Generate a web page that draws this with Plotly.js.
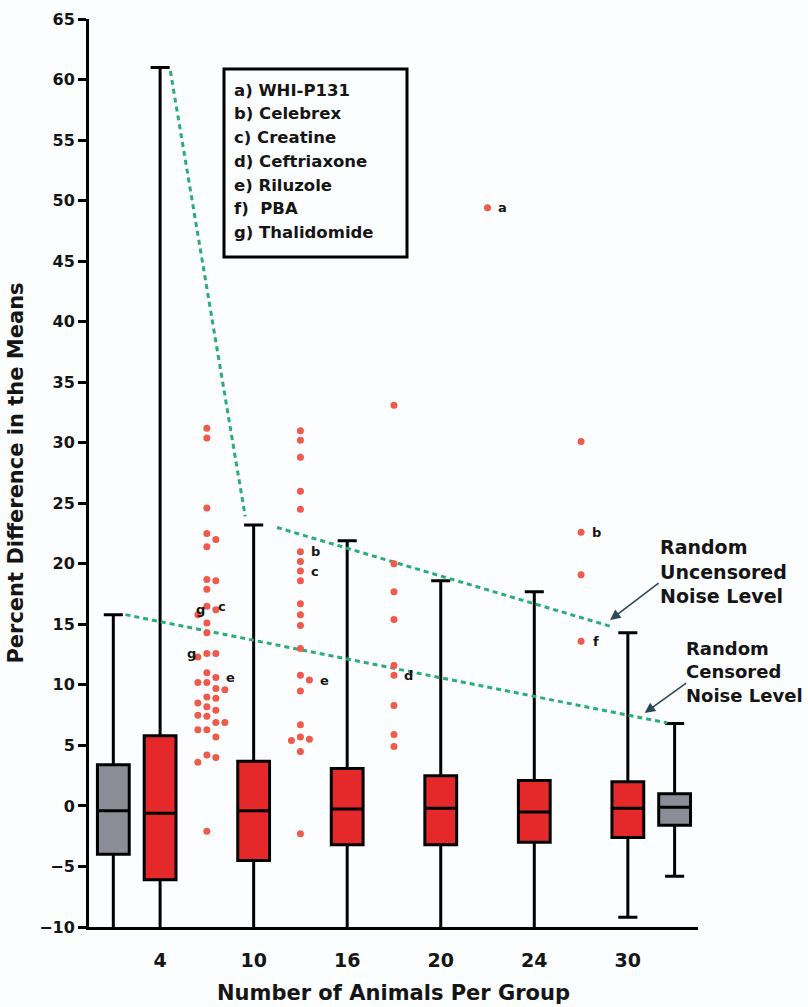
<!DOCTYPE html>
<html><head><meta charset="utf-8">
<script src="https://cdn.plot.ly/plotly-3.0.1.min.js"></script>
<style>html,body{margin:0;padding:0;background:#fcfdff;}#chart{width:808px;height:1007px;}</style>
</head><body><div id="chart"></div>
<script>
// ---------- DATA ----------
const groupLabels = ['4', '10', '16', '20', '24', '30'];
const groupPos = [0, 1, 2, 3, 4, 5];
const redQ1 = [-6.1, -4.5, -3.2, -3.2, -3.0, -2.6];
const redMedian = [-0.6, -0.4, -0.25, -0.2, -0.5, -0.2];
const redQ3 = [5.8, 3.7, 3.1, 2.5, 2.1, 2.0];
const redLower = [-11, -11, -11, -11, -11, -9.2];
const redUpper = [61.0, 23.2, 21.9, 18.6, 17.7, 14.3];

const grayPos = [-0.5, 5.5];
const grayQ1 = [-4.0, -1.6];
const grayMedian = [-0.4, -0.1];
const grayQ3 = [3.4, 1.0];
const grayLower = [-11, -5.8];
const grayUpper = [15.8, 6.8];

// outlier (drug) dots, placed between the group boxes
const dotColumns = [0.5, 1.5, 2.5, 3.5, 4.5];
const dotsCol1 = [31.2, 30.4, 24.6, 22.5, 22.0, 21.4, 18.7, 18.6, 17.9, 16.5, 16.2, 15.8, 15.1, 14.3,
  12.6, 12.6, 12.3, 11.0, 10.6, 10.2, 10.2, 9.7, 9.6, 9.0, 8.9, 8.5, 8.2, 7.9, 7.5, 7.4, 6.9, 6.9,
  6.3, 6.3, 5.7, 4.2, 4.0, 3.6, -2.1];
const dotsCol2 = [31.0, 30.2, 28.8, 26.0, 24.5, 21.0, 20.2, 19.4, 18.6, 16.7, 15.8, 14.9, 13.0,
  10.8, 10.4, 9.5, 6.7, 5.7, 5.5, 5.4, 4.5, -2.3];
const dotsCol3 = [33.1, 20.0, 17.7, 15.4, 11.6, 10.8, 8.3, 5.9, 4.9];
const dotsCol4 = [49.4];
const dotsCol5 = [30.1, 22.6, 19.1, 13.6];

// letter tags next to dots
const tagLetters = ['a', 'b', 'b', 'c', 'c', 'd', 'e', 'e', 'f', 'g', 'g'];
const tagColumns = [3.5, 1.5, 4.5, 0.5, 1.5, 2.5, 0.5, 1.5, 4.5, 0.5, 0.5];
const tagValues = [49.4, 21.0, 22.6, 16.5, 19.4, 10.8, 10.6, 10.4, 13.6, 16.2, 12.6];

// noise level lines
const uncensoredX = [0.11, 0.91, null, 1.25, 4.83];
const uncensoredY = [60.7, 23.9, null, 23.0, 14.8];
const censoredX = [-0.37, 5.42];
const censoredY = [15.8, 6.85];

const legendEntries = ['a) WHI-P131', 'b) Celebrex', 'c) Creatine', 'd) Ceftriaxone', 'e) Riluzole', 'f)\u00a0 PBA', 'g) Thalidomide'];

// ---------- LAYOUT CONSTANTS ----------
const W = 808, H = 1007;
const M = {l: 89, r: 110, t: 19, b: 80};
const xRange = [-0.76, 5.75], yRange = [-10, 65];
const pxPerX = (W - M.l - M.r) / (xRange[1] - xRange[0]);
const pxPerY = (H - M.t - M.b) / (yRange[1] - yRange[0]);
const FONT = 'DejaVu Sans, Arial, sans-serif';
const TXT = '#151515';

function swarm(values) {
  const placed = [];
  const order = [0, 1, -1, 2, -2, 3, -3];
  const step = 9, minD = 8.5;
  values.slice().sort((a, b) => b - a).forEach(v => {
    for (const k of order) {
      const off = k * step;
      if (placed.every(p => Math.hypot(off - p.off, (v - p.v) * pxPerY) >= minD)) {
        placed.push({v, off});
        break;
      }
    }
  });
  return placed;
}

const allCols = [dotsCol1, dotsCol2, dotsCol3, dotsCol4, dotsCol5];
const dotX = [], dotY = [];
const swarms = allCols.map((vals, i) => {
  const s = swarm(vals);
  s.forEach(p => { dotX.push(dotColumns[i] + p.off / pxPerX); dotY.push(p.v); });
  return s;
});

const green = '#2aae78';
const traces = [
  {type: 'scatter', mode: 'lines', x: uncensoredX, y: uncensoredY, connectgaps: false,
   line: {color: green, width: 3, dash: '5px,4px'}, hoverinfo: 'skip', showlegend: false},
  {type: 'scatter', mode: 'lines', x: censoredX, y: censoredY,
   line: {color: green, width: 3, dash: '5px,4px'}, hoverinfo: 'skip', showlegend: false},
  {type: 'box', x: groupPos, q1: redQ1, median: redMedian, q3: redQ3,
   lowerfence: redLower, upperfence: redUpper, width: 0.34, whiskerwidth: 0.6,
   fillcolor: '#e5282a', line: {color: '#000', width: 3}, boxpoints: false, showlegend: false},
  {type: 'box', x: grayPos, q1: grayQ1, median: grayMedian, q3: grayQ3,
   lowerfence: grayLower, upperfence: grayUpper, width: 0.34, whiskerwidth: 0.6,
   fillcolor: '#8b8c96', line: {color: '#000', width: 3}, boxpoints: false, showlegend: false},
  {type: 'scatter', mode: 'markers', x: dotX, y: dotY,
   marker: {color: '#f05a4b', size: 7}, hoverinfo: 'y', showlegend: false}
];

const annotations = [];
tagLetters.forEach((t, i) => {
  const ci = dotColumns.indexOf(tagColumns[i]);
  const s = swarms[ci];
  let best = s[0];
  s.forEach(p => { if (Math.abs(p.v - tagValues[i]) < Math.abs(best.v - tagValues[i])) best = p; });
  const side = t === 'g' ? -1 : 1;
  annotations.push({x: tagColumns[i], y: tagValues[i], xref: 'x', yref: 'y', text: t,
    showarrow: false, xshift: best.off + side * 15,
    font: {family: FONT, size: 13, color: TXT, weight: 'bold'}});
});

// legend box lines
const toPaperX = px => (px - M.l) / (W - M.l - M.r);
const toPaperY = py => (H - M.b - py) / (H - M.t - M.b);
legendEntries.forEach((t, i) => {
  annotations.push({x: toPaperX(232), y: toPaperY(90 + i * 23.8), xref: 'paper', yref: 'paper',
    xanchor: 'left', yanchor: 'middle', text: t, showarrow: false,
    font: {family: FONT, size: 16.5, color: TXT, weight: 'bold'}});
});

// noise level texts + arrows
annotations.push({x: toPaperX(658), y: toPaperY(571), xref: 'paper', yref: 'paper', xanchor: 'left',
  yanchor: 'middle', align: 'left', showarrow: false, text: 'Random<br>Uncensored<br>Noise Level',
  font: {family: FONT, size: 19, color: TXT, weight: 'bold'}});
annotations.push({x: toPaperX(684), y: toPaperY(672), xref: 'paper', yref: 'paper', xanchor: 'left',
  yanchor: 'middle', align: 'left', showarrow: false, text: 'Random<br>Censored<br>Noise Level',
  font: {family: FONT, size: 18, color: TXT, weight: 'bold'}});
annotations.push({x: 4.81, y: 15.36, xref: 'x', yref: 'y', text: '', showarrow: true,
  ax: 50, ay: -38, arrowhead: 2, arrowsize: 1.3, arrowwidth: 1.6, arrowcolor: '#2e4858'});
annotations.push({x: 5.18, y: 7.68, xref: 'x', yref: 'y', text: '', showarrow: true,
  ax: 43, ay: -31, arrowhead: 2, arrowsize: 1.3, arrowwidth: 1.6, arrowcolor: '#2e4858'});

const layout = {
  width: W, height: H, margin: M,
  paper_bgcolor: '#fcfdff', plot_bgcolor: '#fcfdff',
  boxmode: 'overlay', showlegend: false,
  font: {family: FONT, color: TXT},
  xaxis: {range: xRange, tickvals: groupPos, ticktext: groupLabels, ticks: '',
    showline: true, linecolor: '#000', linewidth: 3, showgrid: false, zeroline: false,
    ticklabelstandoff: 14,
    tickfont: {family: FONT, size: 19, color: TXT, weight: 'bold'},
    title: {text: 'Number of Animals Per Group', standoff: 16,
      font: {family: FONT, size: 21, color: TXT, weight: 'bold'}}},
  yaxis: {range: yRange, dtick: 5, tick0: 0, ticks: 'outside', ticklen: 8, tickwidth: 3,
    tickcolor: '#000', showline: true, linecolor: '#000', linewidth: 3, showgrid: false, zeroline: false,
    tickfont: {family: FONT, size: 16, color: TXT, weight: 'bold'},
    title: {text: 'Percent Difference in the Means', standoff: 10,
      font: {family: FONT, size: 21, color: TXT, weight: 'bold'}}},
  shapes: [{type: 'rect', xref: 'paper', yref: 'paper', x0: toPaperX(224), x1: toPaperX(407),
    y0: toPaperY(257), y1: toPaperY(69), line: {color: '#000', width: 3}, fillcolor: 'rgba(0,0,0,0)'}],
  annotations: annotations
};

Plotly.newPlot('chart', traces, layout, {displayModeBar: false, staticPlot: true});
</script>
</body></html>
